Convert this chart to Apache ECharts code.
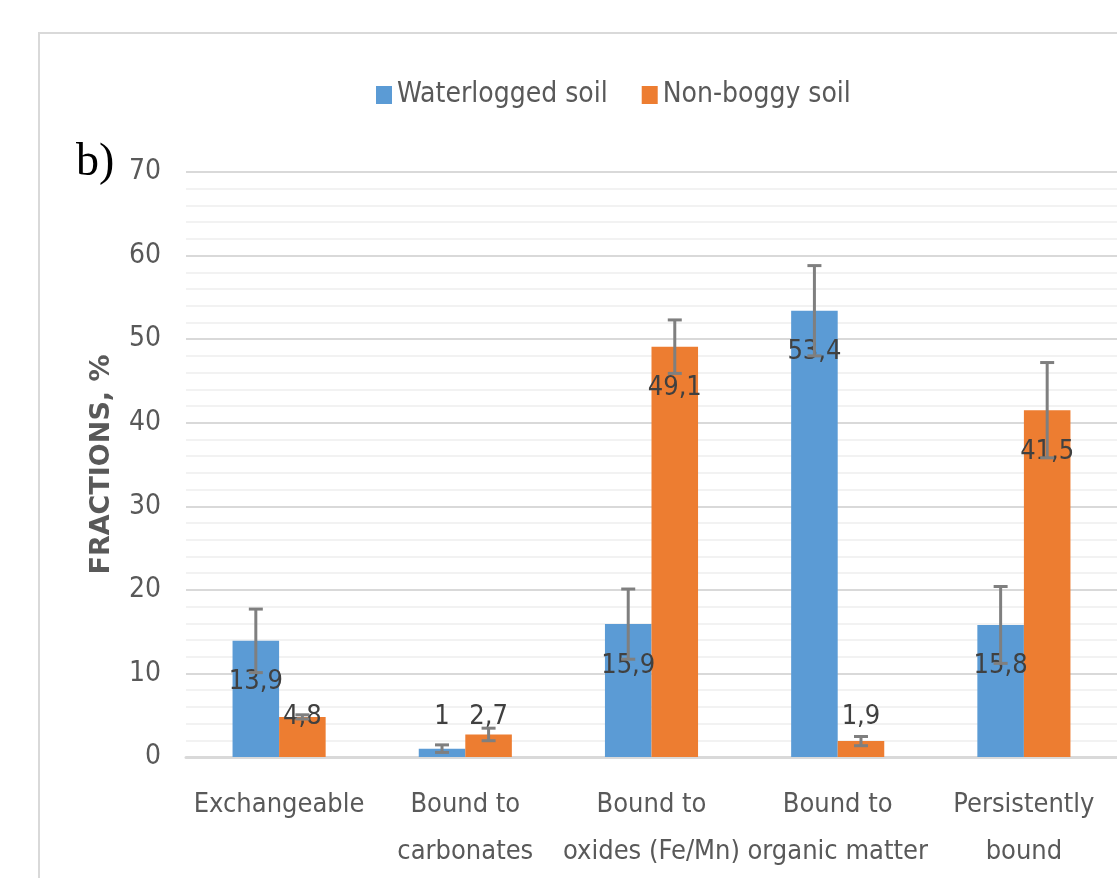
<!DOCTYPE html>
<html>
<head>
<meta charset="utf-8">
<script src="https://cdn.jsdelivr.net/npm/echarts@6/dist/echarts.min.js"></script>
<style>
  html, body { margin: 0; padding: 0; background: #fff; }
  #chart { width: 1117px; height: 878px; }
</style>
</head>
<body>
<div id="chart"></div>
<script>
const categories = [
  "Exchangeable",
  "Bound to\ncarbonates",
  "Bound to\noxides (Fe/Mn)",
  "Bound to\norganic matter",
  "Persistently\nbound",
];
const waterlogged = [13.9, 1, 15.9, 53.4, 15.8];
const nonBoggy = [4.8, 2.7, 49.1, 1.9, 41.5];
// error bar half-widths
const waterloggedErr = [3.8, 0.45, 4.2, 5.4, 4.6];
const nonBoggyErr = [0.25, 0.75, 3.2, 0.55, 5.7];

const NARROW = "'DejaVu Sans Condensed', 'Liberation Sans Narrow', sans-serif";
const TEXT = "#595959";
const GRID_TOP = 172;
const GRID_BOTTOM = 121;
const Y_MAX = 70;
const pxPerUnit = (878 - GRID_TOP - GRID_BOTTOM) / Y_MAX;

const fmt = (v) => String(v).replace(".", ",");

// small bars get their label lifted above, like excel did
function labelFor(v) {
  if (v >= 10) {
    return { position: "insideTop", distance: 28 };
  }
  const lift = (4.8 - v) * pxPerUnit - 14;
  return { position: "top", distance: 0, offset: [0, -lift] };
}

function barSeries(name, values, color) {
  return {
    name: name,
    type: "bar",
    barGap: 0,
    barCategoryGap: "50%",
    itemStyle: { color: color },
    data: values.map((v) => ({ value: v, label: labelFor(v) })),
    label: {
      show: true,
      color: "#404040",
      fontFamily: NARROW,
      fontSize: 27,
      formatter: (p) => fmt(p.value),
    },
    z: 2,
  };
}

function errorSeries(name, values, errs, side) {
  return {
    name: name + " err",
    type: "custom",
    silent: true,
    z: 3,
    data: values.map((v, i) => [i, v - errs[i], v + errs[i]]),
    renderItem: (params, api) => {
      const band = api.size([1, 0])[0];
      const dx = side * band * 0.125;
      const lo = api.coord([api.value(0), api.value(1)]);
      const hi = api.coord([api.value(0), api.value(2)]);
      const x = lo[0] + dx;
      const cap = 7;
      const style = { stroke: "#7f7f7f", lineWidth: 3 };
      return {
        type: "group",
        children: [
          { type: "line", shape: { x1: x, y1: lo[1], x2: x, y2: hi[1] }, style: style },
          { type: "line", shape: { x1: x - cap, y1: lo[1], x2: x + cap, y2: lo[1] }, style: style },
          { type: "line", shape: { x1: x - cap, y1: hi[1], x2: x + cap, y2: hi[1] }, style: style },
        ],
      };
    },
  };
}

const chart = echarts.init(document.getElementById("chart"));
chart.setOption({
  animation: false,
  backgroundColor: "#fff",
  legend: {
    data: ["Waterlogged soil", "Non-boggy soil"],
    top: 76,
    left: 371,
    icon: "rect",
    itemWidth: 16,
    itemHeight: 18,
    itemGap: 34,
    textStyle: { color: TEXT, fontFamily: NARROW, fontSize: 28 },
  },
  graphic: [
    {
      type: "rect",
      shape: { x: 39, y: 33, width: 1200, height: 1000 },
      style: { fill: "none", stroke: "#d9d9d9", lineWidth: 2 },
      silent: true,
    },
    {
      type: "text",
      left: 76,
      top: 140,
      style: { text: "b)", fontFamily: "'Liberation Serif', serif", fontSize: 46, fill: "#000" },
    },
  ],
  grid: { left: 186, top: GRID_TOP, width: 945, bottom: GRID_BOTTOM },
  xAxis: {
    type: "category",
    data: categories,
    axisLine: { lineStyle: { color: "#d9d9d9", width: 3 } },
    axisTick: { show: false },
    axisLabel: {
      color: TEXT,
      fontFamily: NARROW,
      fontSize: 27,
      lineHeight: 47,
      margin: 24,
      interval: 0,
    },
  },
  yAxis: {
    type: "value",
    min: 0,
    max: Y_MAX,
    interval: 10,
    name: "FRACTIONS, %",
    nameLocation: "middle",
    nameGap: 71,
    nameTextStyle: { color: TEXT, fontFamily: "'DejaVu Sans', sans-serif", fontWeight: "bold", fontSize: 27 },
    axisLine: { show: false },
    axisTick: { show: false },
    axisLabel: { color: TEXT, fontFamily: NARROW, fontSize: 28, margin: 25 },
    splitLine: { lineStyle: { color: "#d9d9d9", width: 2 } },
    minorTick: { show: false, splitNumber: 5 },
    minorSplitLine: { show: true, lineStyle: { color: "#f2f2f2", width: 2 } },
  },
  series: [
    barSeries("Waterlogged soil", waterlogged, "#5b9bd5"),
    barSeries("Non-boggy soil", nonBoggy, "#ed7d31"),
    errorSeries("Waterlogged soil", waterlogged, waterloggedErr, -1),
    errorSeries("Non-boggy soil", nonBoggy, nonBoggyErr, 1),
  ],
});
</script>
</body>
</html>
